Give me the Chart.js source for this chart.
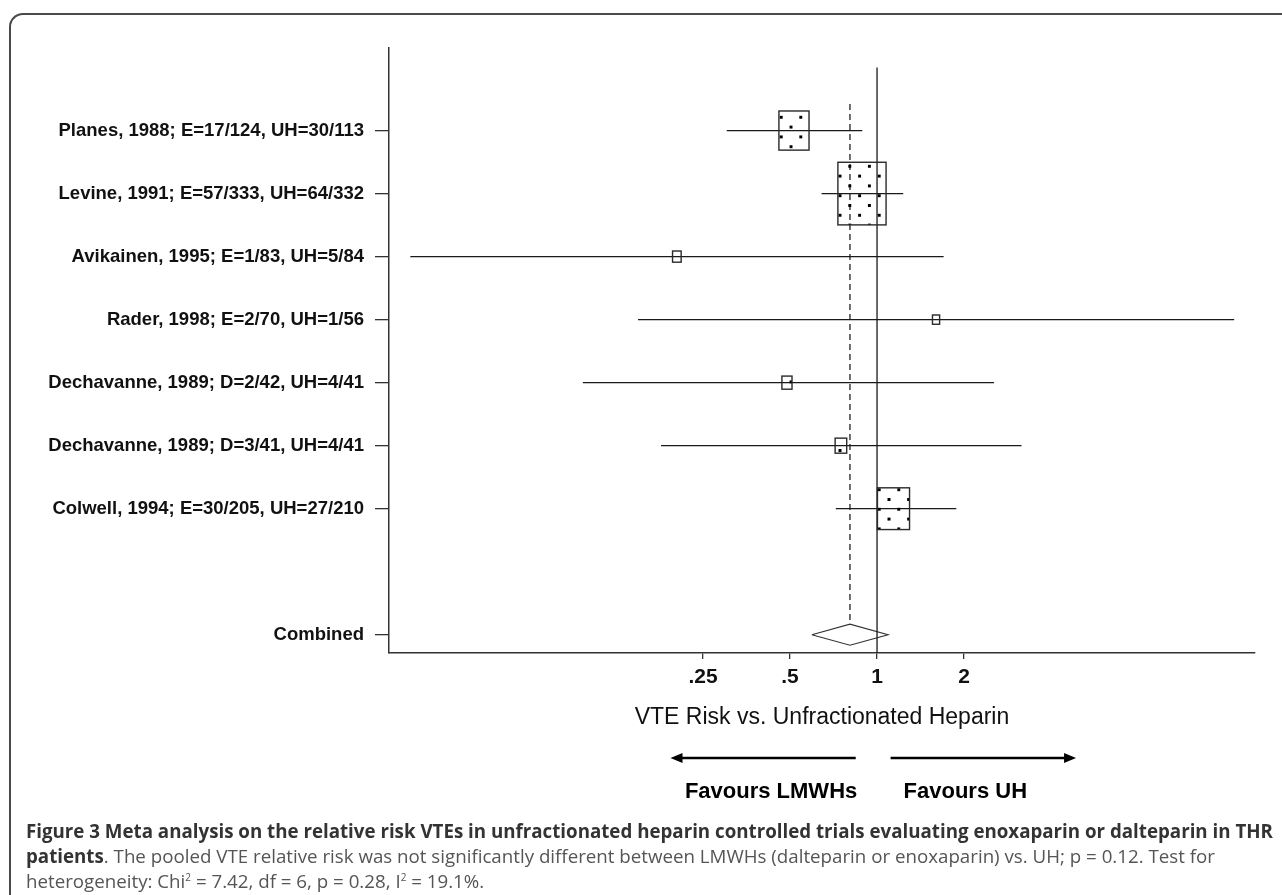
<!DOCTYPE html>
<html>
<head>
<meta charset="utf-8">
<script src="https://cdn.jsdelivr.net/npm/chart.js@4.4.0/dist/chart.umd.min.js"></script>
<style>
  html, body { margin: 0; padding: 0; background: #fff; overflow: hidden; }
  #page { position: relative; width: 1282px; height: 895px; overflow: hidden; }
  #frame { position: absolute; left: 9px; top: 13px; width: 1320px; height: 920px;
           border-top: 2px solid #4a4a4a; border-left: 2px solid #4a4a4a; border-top-left-radius: 14px; }
  #chart { position: absolute; left: 0; top: 0; }
  #caption { position: absolute; left: 26px; top: 818px; font-family: 'Open Sans', sans-serif;
             font-size: 16px; line-height: 25px; color: #555; white-space: nowrap; }
  #caption b { color: #333; }
  #caption sup { font-size: 10px; line-height: 0; }
</style>
</head>
<body>
<div id="page">
  <div id="frame"></div>
  <canvas id="chart" width="1282" height="895"></canvas>
  <div id="caption">
    <div id="cap1"><b>Figure 3 Meta analysis on the relative risk VTEs in unfractionated heparin controlled trials evaluating enoxaparin or dalteparin in THR</b></div>
    <div><b>patients</b>. The pooled VTE relative risk was not significantly different between LMWHs (dalteparin or enoxaparin) vs. UH; p = 0.12. Test for</div>
    <div>heterogeneity: Chi<sup>2</sup> = 7.42, df = 6, p = 0.28, I<sup>2</sup> = 19.1%.</div>
  </div>
</div>
<script>
// trials, top to bottom
const studies = [
  'Planes, 1988; E=17/124, UH=30/113',
  'Levine, 1991; E=57/333, UH=64/332',
  'Avikainen, 1995; E=1/83, UH=5/84',
  'Rader, 1998; E=2/70, UH=1/56',
  'Dechavanne, 1989; D=2/42, UH=4/41',
  'Dechavanne, 1989; D=3/41, UH=4/41',
  'Colwell, 1994; E=30/205, UH=27/210'
];
const riskRatio = [0.516, 0.887, 0.203, 1.60, 0.488, 0.75, 1.14];
const lowerCI   = [0.302, 0.643, 0.0243, 0.149, 0.096, 0.179, 0.72];
const upperCI   = [0.889, 1.232, 1.70, 17.2, 2.54, 3.16, 1.88];
const weightPct = [19.6, 50.2, 1.6, 1.1, 2.2, 2.9, 22.3];
const studyRows = [1, 2, 3, 4, 5, 6, 7];

// pooled estimate: low, estimate, high
const combinedLabel = 'Combined';
const combinedRow = 9;
const pooled = [0.595, 0.806, 1.091];

const xTicks = [0.25, 0.5, 1, 2];
const xTickLabels = ['.25', '.5', '1', '2'];

// drawing constants
const BOX_SCALE = 6.8;      // px per sqrt(weight %)
const BOX_ASPECT = 1.3;
const DIAMOND_HALF = 0.167; // rows
const POOLED_TOP = 0.58;    // row where dashed line starts
const FONT = "'Liberation Sans', Arial, sans-serif";
const INK = '#1a1a1a';

Chart.defaults.font.family = FONT;
Chart.defaults.color = '#111';

const ciSets = studies.map((s, i) => ({
  data: [{x: lowerCI[i], y: studyRows[i]}, {x: upperCI[i], y: studyRows[i]}],
  showLine: true, borderColor: INK, borderWidth: 1.25, pointRadius: 0
}));

const nullLine = {
  data: [{x: 1, y: 0}, {x: 1, y: 9.29}],
  showLine: true, borderColor: INK, borderWidth: 1.3, pointRadius: 0
};

const pooledLine = {
  data: [{x: pooled[1], y: POOLED_TOP}, {x: pooled[1], y: combinedRow - DIAMOND_HALF}],
  showLine: true, borderColor: '#222', borderWidth: 1.3, borderDash: [6, 4], pointRadius: 0
};

const diamond = {
  data: [
    {x: pooled[0], y: combinedRow},
    {x: pooled[1], y: combinedRow - DIAMOND_HALF},
    {x: pooled[2], y: combinedRow},
    {x: pooled[1], y: combinedRow + DIAMOND_HALF},
    {x: pooled[0], y: combinedRow}
  ],
  showLine: true, borderColor: '#333', borderWidth: 1.2, pointRadius: 0
};

const boxes = {
  data: riskRatio.map((v, i) => ({x: v, y: studyRows[i]})),
  pointRadius: 0
};

function dotPattern(ctx) {
  const tile = document.createElement('canvas');
  tile.width = 20; tile.height = 20;
  const t = tile.getContext('2d');
  t.fillStyle = '#000';
  t.fillRect(0, 0, 3, 3);
  t.fillRect(10, 10, 3, 3);
  const p = ctx.createPattern(tile, 'repeat');
  p.setTransform(new DOMMatrix([0.98, 0, 0, 0.98, 15.3, 17.8]));
  return p;
}

const forestPlugin = {
  id: 'forest',
  afterDatasetsDraw(chart) {
    const ctx = chart.ctx;
    const meta = chart.getDatasetMeta(chart.data.datasets.length - 1);
    const pat = dotPattern(ctx);
    meta.data.forEach((pt, i) => {
      const w = BOX_SCALE * Math.sqrt(weightPct[i]);
      const h = w * BOX_ASPECT;
      ctx.save();
      ctx.fillStyle = pat;
      ctx.fillRect(pt.x - w / 2, pt.y - h / 2, w, h);
      ctx.strokeStyle = '#2a2a2a';
      ctx.lineWidth = 1.4;
      ctx.strokeRect(pt.x - w / 2, pt.y - h / 2, w, h);
      ctx.restore();
    });
  },
  afterDraw(chart) {
    // direction arrows under the axis
    const ctx = chart.ctx;
    const xs = chart.scales.x;
    const base = chart.chartArea.bottom;
    const ay = base + 105;
    const arrows = [[0.844, 0.193], [1.114, 4.88]];
    ctx.save();
    ctx.strokeStyle = '#000';
    ctx.fillStyle = '#000';
    ctx.lineWidth = 2.6;
    arrows.forEach(([from, to]) => {
      const x0 = xs.getPixelForValue(from);
      const x1 = xs.getPixelForValue(to);
      const dir = Math.sign(x1 - x0);
      ctx.beginPath();
      ctx.moveTo(x0, ay);
      ctx.lineTo(x1 - dir * 10, ay);
      ctx.stroke();
      ctx.beginPath();
      ctx.moveTo(x1, ay);
      ctx.lineTo(x1 - dir * 12, ay - 5);
      ctx.lineTo(x1 - dir * 12, ay + 5);
      ctx.closePath();
      ctx.fill();
    });
    ctx.font = 'bold 22px ' + FONT;
    ctx.textAlign = 'center';
    ctx.textBaseline = 'middle';
    ctx.fillText('Favours LMWHs', xs.getPixelForValue(0.43), base + 139);
    ctx.fillText('Favours UH', xs.getPixelForValue(2.02), base + 139);
    ctx.restore();
  }
};

new Chart(document.getElementById('chart'), {
  type: 'scatter',
  data: { datasets: [...ciSets, nullLine, pooledLine, diamond, boxes] },
  options: {
    responsive: false,
    animation: false,
    layout: { padding: { left: 0, top: 48, right: 27, bottom: 142 } },
    plugins: { legend: { display: false }, tooltip: { enabled: false } },
    scales: {
      x: {
        type: 'logarithmic',
        position: 'bottom',
        min: 0.0205,
        max: 20.3,
        afterBuildTicks: (scale) => { scale.ticks = xTicks.map(v => ({value: v})); },
        afterFit: (scale) => { scale.height = 100; },
        ticks: {
          autoSkip: false, maxRotation: 0, padding: 6,
          font: { size: 21, weight: 'bold' }, color: '#111',
          callback: (v) => xTickLabels[xTicks.indexOf(v)]
        },
        grid: { display: true, drawOnChartArea: false, drawTicks: true, tickLength: 6, color: '#333', lineWidth: 1.3 },
        border: { display: true, color: '#333', width: 1.5 },
        title: {
          display: true, text: 'VTE Risk vs. Unfractionated Heparin',
          font: { size: 23 }, color: '#111', padding: { top: 0, bottom: 22 }
        }
      },
      y: {
        type: 'linear',
        reverse: true,
        min: -0.31,
        max: 9.29,
        afterBuildTicks: (scale) => {
          scale.ticks = [...studyRows, combinedRow].map(v => ({value: v}));
        },
        afterFit: (scale) => { scale.width = 389; },
        ticks: {
          autoSkip: false, padding: 11,
          font: { size: 18.5, weight: 'bold' }, color: '#111',
          callback: (v) => v === combinedRow ? combinedLabel : studies[studyRows.indexOf(v)]
        },
        grid: { display: true, drawOnChartArea: false, drawTicks: true, tickLength: 14, color: '#333', lineWidth: 1.3 },
        border: { display: true, color: '#333', width: 1.5 }
      }
    }
  },
  plugins: [forestPlugin]
});

// fit caption to the width of the first line
const cap = document.getElementById('caption');
const w1 = document.getElementById('cap1').firstChild.getBoundingClientRect().width;
cap.style.fontSize = (16 * 1248 / w1).toFixed(2) + 'px';
</script>
</body>
</html>
